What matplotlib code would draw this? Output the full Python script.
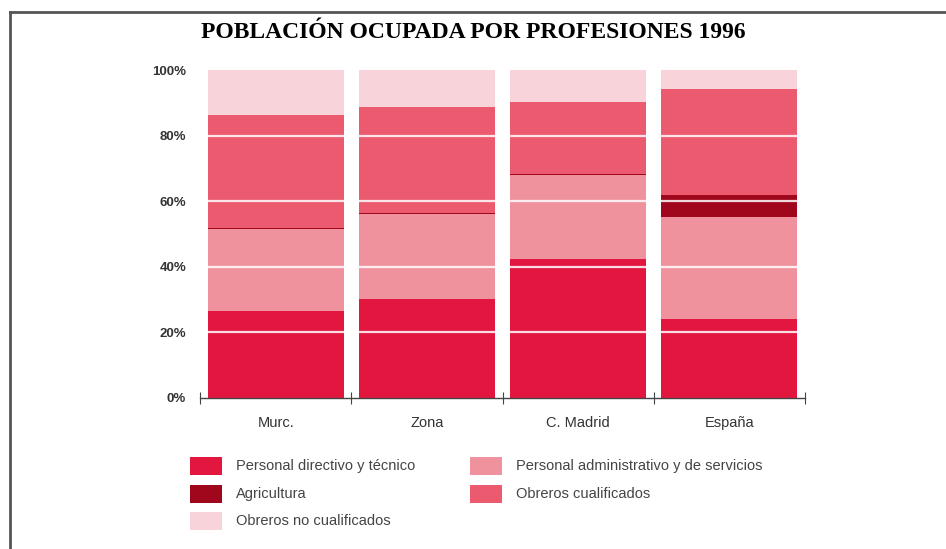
import numpy as np
import matplotlib
matplotlib.use("Agg")
import matplotlib.pyplot as plt
from matplotlib.patches import Rectangle
from matplotlib.lines import Line2D

# --- data (percent of employed population, 1996) ---
regions = ["Murc.", "Zona", "C. Madrid", "España"]
series = ["Personal directivo y técnico", "Personal administrativo y de servicios",
          "Agricultura", "Obreros cualificados", "Obreros no cualificados"]
directivo = [26.5, 30.1, 42.4, 24.0]
administrativo = [25.0, 26.0, 25.5, 31.3]
agricultura = [0.4, 0.4, 0.4, 6.6]
cualificados = [34.4, 32.1, 21.8, 32.2]
no_cualificados = [13.7, 11.4, 9.9, 5.9]
yticks = [0, 20, 40, 60, 80, 100]

colors = ["#E2163F", "#F0929E", "#A0061C", "#EC5A70", "#F8D3DA"]
values = [directivo, administrativo, agricultura, cualificados, no_cualificados]

W, H = 946, 549
fig = plt.figure(figsize=(W / 100, H / 100), dpi=100)
sans = ["Liberation Sans", "DejaVu Sans"]


def fx(px):
    return px / W


def fy(py):
    return 1 - py / H


# page frame (top and left rule)
fig.add_artist(Line2D([fx(10), 1.0], [fy(12), fy(12)], color="#555555", lw=2))
fig.add_artist(Line2D([fx(10), fx(10)], [fy(12), 0], color="#555555", lw=2))

fig.text(0.5, fy(33), "POBLACIÓN OCUPADA POR PROFESIONES 1996", ha="center", va="center",
         fontsize=17, fontweight="bold", family=["Liberation Serif", "DejaVu Serif"])

ax = fig.add_axes([fx(200), fy(398), fx(805) - fx(200), fy(70) - fy(398)])
x = np.arange(len(regions)) + 0.5
bottom = np.zeros(len(regions))
for vals, c in zip(values, colors):
    ax.bar(x, vals, width=0.9, bottom=bottom, color=c, edgecolor="none", zorder=1)
    bottom += np.array(vals)

for g in yticks[1:-1]:
    ax.axhline(g, color="white", lw=1.6, alpha=0.85, zorder=2)

ax.set_xlim(0, len(regions))
ax.set_ylim(0, 100)
for s in ["top", "right", "left"]:
    ax.spines[s].set_visible(False)
ax.spines["bottom"].set_color("#444444")
ax.spines["bottom"].set_linewidth(1.0)

ax.set_yticks(yticks)
ax.set_yticklabels([f"{t}%" for t in yticks], family=sans, fontsize=9.5,
                   color="#333333", fontweight="bold")
ax.tick_params(axis="y", length=0, pad=10)

ax.set_xticks(np.arange(len(regions) + 1), minor=False)
ax.set_xticklabels([""] * (len(regions) + 1))
ax.tick_params(axis="x", which="major", direction="inout", length=9, color="#444444")
ax.set_xticks(x, minor=True)
ax.set_xticklabels(regions, minor=True, family=sans, fontsize=10.5, color="#333333")
ax.tick_params(axis="x", which="minor", length=0, pad=13)

# legend, laid out in two columns like the original
leg_pos = [(190, 466), (470, 466), (190, 494), (470, 494), (190, 521)]
for (lx, ly), i in zip(leg_pos, range(len(series))):
    fig.add_artist(Rectangle((fx(lx), fy(ly + 9)), fx(32), fy(ly - 9) - fy(ly + 9),
                             transform=fig.transFigure, color=colors[i], lw=0))
    fig.text(fx(lx + 46), fy(ly), series[i], ha="left", va="center",
             family=sans, fontsize=10.5, color="#444444")

fig.savefig("out.png", dpi=100)
